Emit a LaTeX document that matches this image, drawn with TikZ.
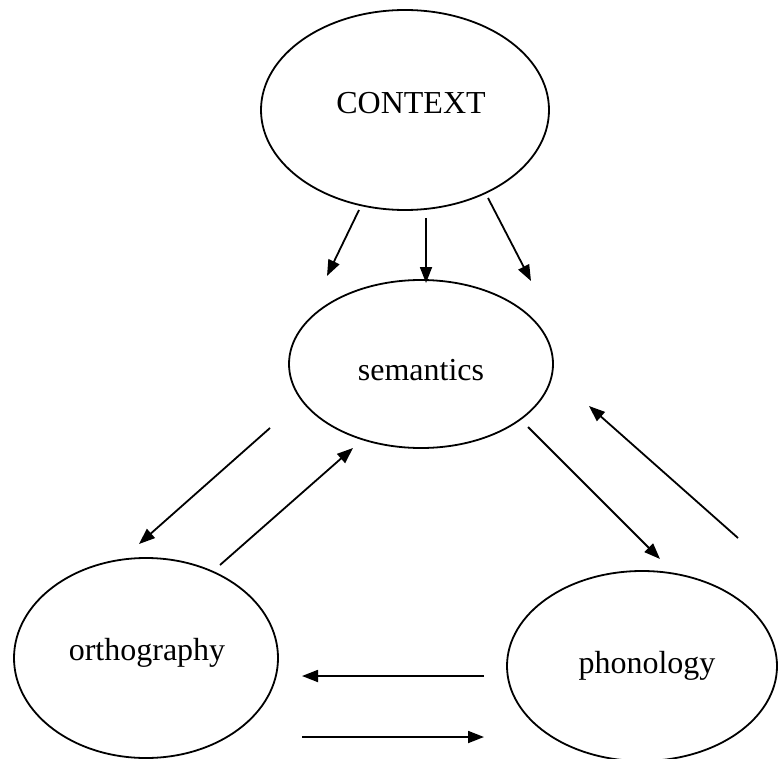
\documentclass[tikz,border=0pt]{standalone}
\usepackage{fontspec}
\setmainfont{Liberation Serif}
\usetikzlibrary{shapes.geometric,arrows.meta}
\begin{document}
\begin{tikzpicture}[x=1pt,y=-1pt,
  bubble/.style={draw, ellipse, line width=1.8pt, inner sep=0pt, font=\fontsize{32}{38}\selectfont},
  label text/.style={font=\fontsize{32}{38}\selectfont},
  link/.style={line width=1.8pt, -{Triangle[length=16pt,width=12pt]}}]
\useasboundingbox (0,0) rectangle (778,759);
\node[bubble, minimum width=288pt, minimum height=200pt] (ctx) at (405,110) {};
\node[label text] (ctxt) at (411,103) {CONTEXT};
\node[bubble, minimum width=264pt, minimum height=168pt] (sem) at (421,364) {};
\node[label text] (semt) at (421,370) {semantics};
\node[bubble, minimum width=264pt, minimum height=200pt] (orth) at (146,658) {};
\node[label text] (ortht) at (147,653) {orthography};
\node[bubble, minimum width=270pt, minimum height=190pt] (phon) at (642,666) {};
\node[label text] (phont) at (647,666) {phonology};
% context to semantics
\coordinate (a1s) at (359,210); \coordinate (a1e) at (327,276);
\coordinate (a2s) at (426,218); \coordinate (a2e) at (426,283);
\coordinate (a3s) at (488,198); \coordinate (a3e) at (531,281);
\draw[link] (a1s) -- (a1e);
\draw[link] (a2s) -- (a2e);
\draw[link] (a3s) -- (a3e);
% semantics <-> orthography
\coordinate (b1s) at (270,428); \coordinate (b1e) at (139,544);
\coordinate (b2s) at (220,565); \coordinate (b2e) at (353,448);
\draw[link] (b1s) -- (b1e);
\draw[link] (b2s) -- (b2e);
% semantics <-> phonology
\coordinate (c1s) at (528,427); \coordinate (c1e) at (660,559);
\coordinate (c2s) at (738,538); \coordinate (c2e) at (589,406);
\draw[link] (c1s) -- (c1e);
\draw[link] (c2s) -- (c2e);
% phonology <-> orthography
\coordinate (d1s) at (484,676); \coordinate (d1e) at (302,676);
\coordinate (d2s) at (302,737); \coordinate (d2e) at (484,737);
\draw[link] (d1s) -- (d1e);
\draw[link] (d2s) -- (d2e);
\end{tikzpicture}
\end{document}
